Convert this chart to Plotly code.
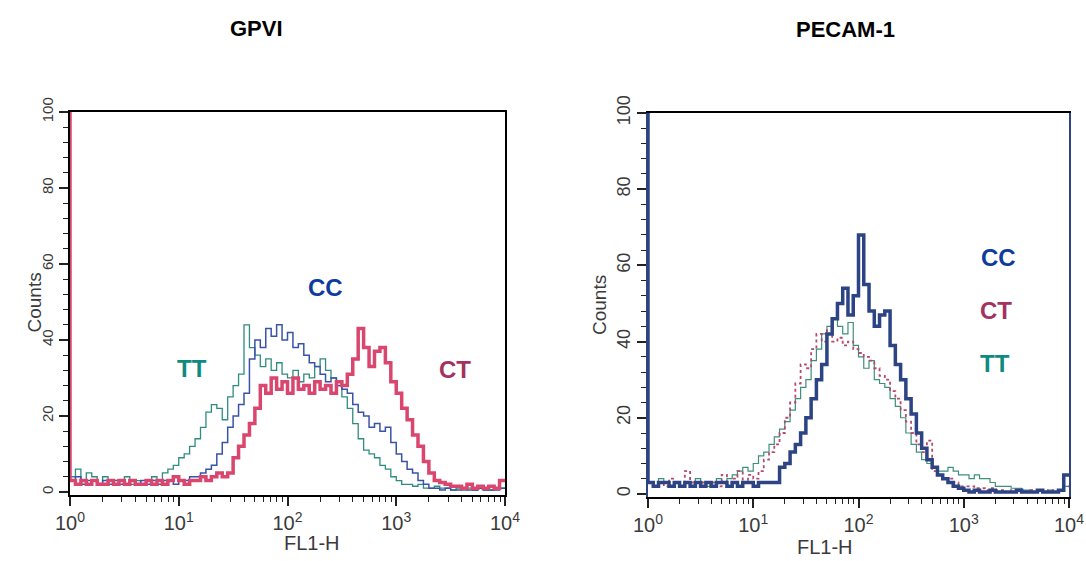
import numpy as np
import plotly.graph_objects as go

# FL1-H channels: 20 bins per decade over 4 decades (right bin edges)
bins_per_decade = 20
fl1 = 10 ** (np.arange(81) / bins_per_decade)

# GPVI histograms (counts per bin)
gpvi_tt = [
    5, 4, 6, 3, 5, 4, 2, 4, 3, 2,
    3, 4, 2, 3, 2, 3, 4, 3, 5, 6,
    7, 9, 10, 12, 14, 17, 21, 23, 22, 19,
    25, 28, 31, 44, 38, 36, 33, 35, 32, 34,
    31, 30, 32, 29, 31, 30, 33, 35, 32, 30,
    28, 25, 22, 18, 14, 11, 10, 9, 7, 6,
    4, 3, 2, 2, 1.5, 2, 1, 1, 1.5, 1,
    1, 0.5, 1, 0.5, 1, 0.5, 1, 0.5, 0.5, 1,
    1,
]
gpvi_cc = [
    4, 3, 4, 2, 3, 3, 2, 3, 2, 3,
    2, 2, 3, 2, 3, 2, 3, 2, 3, 3,
    2, 3, 3, 4, 4, 5, 6, 7, 10, 13,
    17, 20, 23, 26, 35, 40, 38, 43, 41, 44,
    40, 42, 38, 39, 36, 34, 33, 31, 29, 30,
    28, 27, 26, 23, 21, 20, 17, 18, 16, 17,
    13, 10, 8, 6, 5, 3, 2, 1, 1, 0.5,
    1, 0.5, 0.5, 1, 0.5, 0.5, 1, 0.5, 0.5, 0.5,
    1,
]
gpvi_ct = [
    120, 3, 2, 3, 2, 3, 2, 2, 3, 2,
    3, 2, 3, 2, 2, 3, 2, 3, 2, 3,
    4, 3, 2, 3, 3, 4, 3, 4, 5, 4,
    5, 9, 12, 15, 18, 22, 28, 26, 30, 27,
    29, 26, 30, 27, 28, 26, 29, 27, 28, 26,
    29, 28, 31, 35, 43, 38, 33, 37, 38, 34,
    29, 26, 22, 19, 15, 12, 8, 5, 3, 2.5,
    2, 1.5, 1.5, 1, 2, 1, 1.5, 1, 1.5, 1,
    3,
]

# PECAM-1 histograms (counts per bin)
pecam_cc = [
    120, 3, 2, 3, 3, 2, 3, 2, 3, 2,
    3, 2, 3, 2, 3, 3, 2, 3, 2, 3,
    3, 2, 3, 3, 3, 3, 7, 8, 11, 13,
    16, 20, 25, 30, 34, 42, 46, 50, 54, 47,
    52, 68, 55, 48, 44, 47, 48, 39, 34, 30,
    25, 21, 16, 12, 9, 7, 5, 4, 3, 2,
    1.5, 1, 0.5, 1, 0.5, 0.5, 1, 0.5, 0.5, 0.5,
    0.5, 1, 0.5, 0.5, 0.5, 1, 0.5, 0.5, 0.5, 1,
    5,
]
pecam_tt = [
    3, 3, 2, 4, 3, 2, 3, 2, 3, 2,
    4, 3, 2, 3, 4, 3, 4, 5, 6, 7,
    6, 8, 10, 11, 13, 15, 17, 19, 22, 25,
    28, 30, 35, 38, 42, 44, 46, 44, 42, 45,
    39, 36, 33, 35, 30, 29, 28, 25, 23, 20,
    16, 13, 11, 9, 8, 7, 6, 6, 7, 6,
    5, 5, 4, 5, 4, 4, 3, 2, 2, 2,
    1.5, 1.5, 1, 1, 0.5, 1, 0.5, 1, 0.5, 1,
    2,
]
pecam_ct = [
    3, 3, 2, 3, 2, 4, 3, 2, 6, 3,
    2, 3, 2, 3, 2, 5, 3, 4, 6, 3,
    5, 4, 6, 9, 11, 13, 16, 20, 24, 29,
    34, 33, 38, 42, 40, 43, 40, 41, 39, 40,
    38, 37, 36, 35, 33, 31, 30, 27, 25, 22,
    19, 16, 13, 11, 14, 6, 5, 4, 4, 3,
    2, 2, 2, 1.5, 1.5, 1, 1.5, 1, 1, 0.5,
    1, 1, 0.5, 1, 0.5, 1, 0.5, 1, 0.5, 1,
    2,
]

decade_ticks = [1, 10, 100, 1000, 10000]
decade_labels = ["10<sup>0</sup>", "10<sup>1</sup>", "10<sup>2</sup>",
                 "10<sup>3</sup>", "10<sup>4</sup>"]
count_ticks = [0, 20, 40, 60, 80, 100]

FONT = "Arial, Liberation Sans, sans-serif"
CC_LABEL = "#0d3b9e"
CT_LABEL = "#a3325f"
TT_LABEL = "#0f8a80"

FIG_W = 1086
FIG_H = 561


def px(x):
    return x / FIG_W


def py(y):
    return 1 - y / FIG_H


def hist_trace(y, color, width, xaxis, dash="solid"):
    """step histogram trace on one of the panels"""
    return go.Scatter(
        x=fl1,
        y=y,
        mode="lines",
        line=dict(color=color, width=width, shape="vh", dash=dash),
        xaxis=xaxis,
        yaxis=xaxis.replace("x", "y"),
        showlegend=False,
        hoverinfo="skip",
    )


def x_axis(domain, anchor, tick_size):
    minor_vals = [k * 10 ** d for d in range(4) for k in range(2, 10)]
    return dict(
        type="log",
        domain=domain,
        anchor=anchor,
        automargin=False,
        range=[0, 4],
        showline=True,
        mirror=True,
        linecolor="black",
        linewidth=2,
        showgrid=False,
        zeroline=False,
        ticks="outside",
        ticklen=9,
        tickwidth=1.5,
        tickcolor="#222",
        tickvals=decade_ticks,
        ticktext=decade_labels,
        ticklabeloverflow="allow",
        tickfont=dict(size=tick_size, color="#3a3a3a", family=FONT),
        minor=dict(ticks="outside", ticklen=5, tickwidth=1.2,
                   tickcolor="#222", tickvals=minor_vals),
    )


def y_axis(domain, anchor, tick_size, line_color):
    return dict(
        domain=domain,
        anchor=anchor,
        automargin=False,
        range=[-0.8, 100],
        showline=True,
        mirror=True,
        linecolor=line_color,
        linewidth=2,
        showgrid=False,
        zeroline=False,
        ticks="outside",
        ticklen=9,
        tickwidth=1.5,
        tickcolor="#222",
        tickvals=count_ticks,
        tickangle=-90,
        tickfont=dict(size=tick_size, color="#3a3a3a", family=FONT),
        minor=dict(ticks="outside", ticklen=5, tickwidth=1.2,
                   tickcolor="#222", dtick=4),
    )


fig = go.Figure(
    data=[
        # GPVI
        hist_trace(gpvi_tt, "#2f8c80", 1.3, "x"),
        hist_trace(gpvi_cc, "#3954a6", 1.5, "x"),
        hist_trace(gpvi_ct, "#d9476f", 3.5, "x"),
        # PECAM-1
        hist_trace(pecam_tt, "#3f8f7c", 1.2, "x2"),
        hist_trace(pecam_ct, "#b54a6c", 1.8, "x2", dash="dot"),
        hist_trace(pecam_cc, "#2c4384", 3.5, "x2"),
    ]
)


def label(text, x, y, color, size=24):
    return dict(text=f"<b>{text}</b>", x=px(x), y=py(y), xref="paper", yref="paper",
                showarrow=False, xanchor="center", yanchor="middle",
                font=dict(size=size, color=color, family=FONT))


annotations = [
    label("GPVI", 256, 28, "black", 22),
    label("PECAM-1", 845, 30, "black", 22),
    label("CC", 325, 287, CC_LABEL),
    label("TT", 192, 368, TT_LABEL),
    label("CT", 455, 369, CT_LABEL),
    label("CC", 998, 257, CC_LABEL),
    label("CT", 996, 310, CT_LABEL),
    label("TT", 995, 363, TT_LABEL),
]
for x, y in [(282, 543), (855, 547)]:
    annotations.append(dict(text="FL1-H", x=px(x), y=py(y), xref="paper", yref="paper",
                            showarrow=False, yanchor="middle",
                            font=dict(size=20, color="#3a3a3a", family=FONT)))
for x, y in [(21, 303), (599, 305)]:
    annotations.append(dict(text="Counts", x=px(x), y=py(y), xref="paper", yref="paper",
                            showarrow=False, textangle=-90,
                            font=dict(size=19, color="#3a3a3a", family=FONT)))

fig.update_layout(
    width=FIG_W,
    height=FIG_H,
    margin=dict(l=0, r=0, t=0, b=0, autoexpand=False),
    paper_bgcolor="white",
    plot_bgcolor="white",
    font=dict(family=FONT, color="#333"),
    xaxis=x_axis([px(70), px(505)], "y", 20),
    yaxis=y_axis([py(495), py(112)], "x", 15, "black"),
    xaxis2=x_axis([px(648), px(1069)], "y2", 20),
    yaxis2=y_axis([py(497), py(113)], "x2", 18, "#2c4384"),
    annotations=annotations,
)

# drop the default body margin so the figure fills the window exactly
fig.write_html(
    "out.html",
    config={"displayModeBar": False},
    post_script="document.body.style.margin = '0';",
)
